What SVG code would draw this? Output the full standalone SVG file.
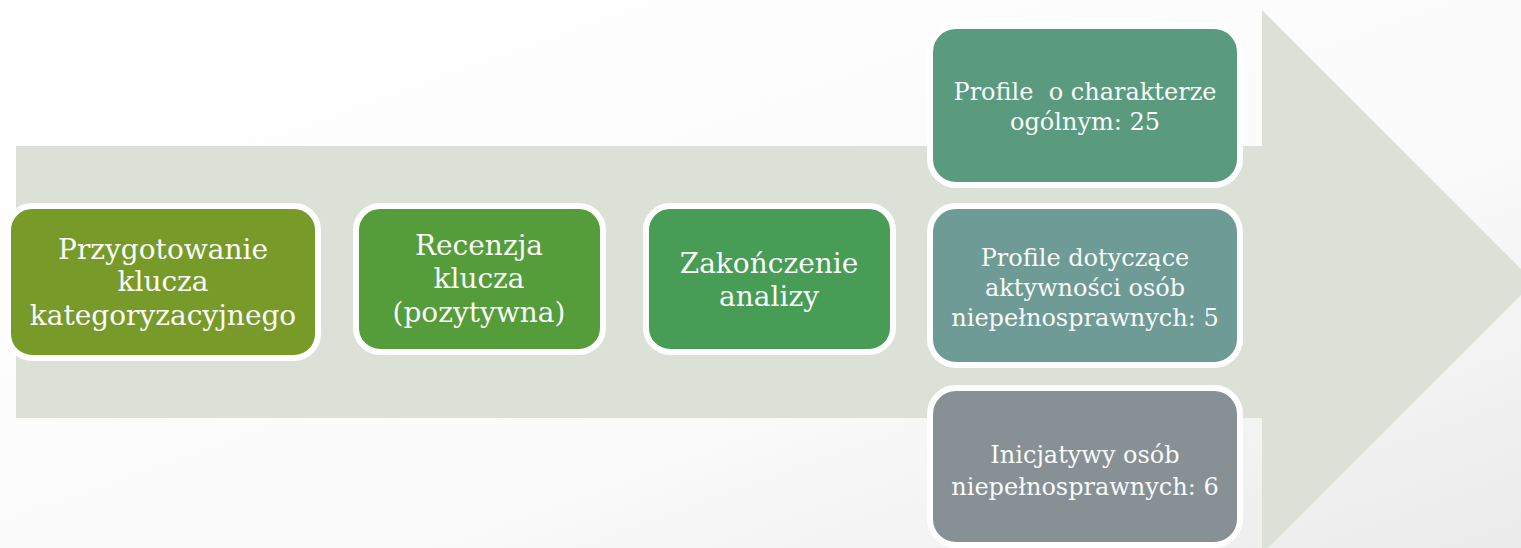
<svg xmlns="http://www.w3.org/2000/svg" width="1521" height="548" viewBox="0 0 1521 548">
<defs>
<linearGradient id="bg" x1="0" y1="0" x2="1" y2="1">
<stop offset="0" stop-color="#ffffff"/>
<stop offset="0.6" stop-color="#fbfbfb"/>
<stop offset="1" stop-color="#ebebeb"/>
</linearGradient>
<style>
.box{stroke:#ffffff;stroke-width:6}
text{fill:#fafafa;text-anchor:middle;white-space:pre;font-family:"DejaVu Serif","Liberation Serif",serif}
.big{font-size:28px}
.small{font-size:24px}
</style>
</defs>
<rect width="1521" height="548" fill="url(#bg)"/>
<path id="arrow" d="M16 146 H1262 V10 L1534 282 L1262 554 V418 H16 Z" fill="#dce1d7"/>
<g id="n1">
<rect class="box" x="8" y="206" width="310" height="152" rx="24" fill="#789a29"/>
<text class="big" x="163" y="259">Przygotowanie</text>
<text class="big" x="163" y="291">klucza</text>
<text class="big" x="163" y="325">kategoryzacyjnego</text>
</g>
<g id="n2">
<rect class="box" x="356" y="206" width="247" height="146" rx="24" fill="#559c3a"/>
<text class="big" x="479" y="255">Recenzja</text>
<text class="big" x="479" y="288">klucza</text>
<text class="big" x="479" y="322">(pozytywna)</text>
</g>
<g id="n3">
<rect class="box" x="646" y="206" width="247" height="146" rx="24" fill="#479c56"/>
<text class="big" x="769" y="273">Zakończenie</text>
<text class="big" x="769" y="306">analizy</text>
</g>
<g id="n4">
<rect class="box" x="930" y="26" width="310" height="159" rx="26" fill="#5a9a7e"/>
<text class="small" x="1085" y="100" xml:space="preserve">Profile  o charakterze</text>
<text class="small" x="1085" y="130">ogólnym: 25</text>
</g>
<g id="n5">
<rect class="box" x="930" y="206" width="310" height="159" rx="26" fill="#6e9b95"/>
<text class="small" x="1085" y="266">Profile dotyczące</text>
<text class="small" x="1085" y="296">aktywności osób</text>
<text class="small" x="1085" y="326">niepełnosprawnych: 5</text>
</g>
<g id="n6">
<rect class="box" x="930" y="388" width="310" height="157" rx="26" fill="#869095"/>
<text class="small" x="1085" y="463">Inicjatywy osób</text>
<text class="small" x="1085" y="495">niepełnosprawnych: 6</text>
</g>
<g id="connectors"></g>
</svg>
